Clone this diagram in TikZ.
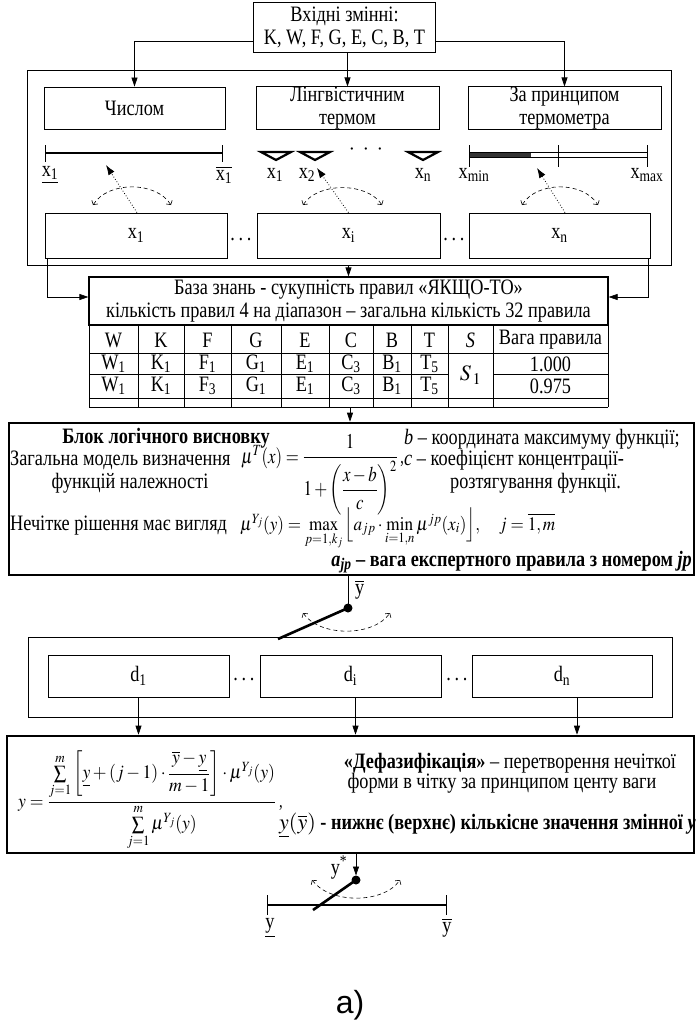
\documentclass[tikz,border=0pt]{standalone}
\usepackage{amsmath}
\usepackage{graphicx}
\usepackage{mathptmx}
\usepackage[no-math]{fontspec}
\setmainfont[FakeStretch=0.83]{Liberation Serif}
\newfontfamily\capsans{Liberation Sans}
\newcommand{\hsq}[2]{\scalebox{#1}[1]{#2}}
\usetikzlibrary{arrows.meta}
\begin{document}
\begin{tikzpicture}[x=1pt,y=-1pt,
 every node/.style={font=\fontsize{22}{23}\selectfont, inner sep=0pt},
 box/.style={draw, line width=0.8pt, align=center},
 heavy/.style={draw, line width=2.6pt},
 arr/.style={line width=0.7pt, -{Triangle[length=9pt,width=6pt]}},
 dotarr/.style={dotted, line width=0.8pt, -{Latex[length=10pt,width=7pt]}},
 swing/.style={dash pattern=on 4pt off 3pt, line width=0.6pt, {Straight Barb[length=3pt,width=7pt]}-{Straight Barb[length=3pt,width=7pt]}},
 lever/.style={line width=2.6pt},
 tick/.style={line width=0.7pt},
 scalebar/.style={line width=2.6pt},
 memb/.style={line width=2.2pt, line join=miter},
 thin/.style={line width=0.7pt},
 mathsz/.style={font=\fontsize{19}{23}\selectfont},
 mathbig/.style={font=\fontsize{21}{23}\selectfont},
]
\useasboundingbox (0,0) rectangle (696,1026);

% ---------- input block ----------
\node[box, minimum width=182pt, minimum height=50pt] (inp) at (344.5,27) {Вхідні змінні:\\K, W, F, G, E, C, B, T};
\node[box, minimum width=644pt, minimum height=195pt] (frA) at (349,167.5) {};
\node[box, minimum width=181pt, minimum height=42pt] (num) at (134.5,108) {Числом};
\node[box, minimum width=183pt, minimum height=42pt] (ling) at (347.5,108) {Лінгвістичним\\термом};
\node[box, minimum width=193pt, minimum height=42pt] (therm) at (564.5,108) {За принципом\\термометра};
\draw[arr] ([yshift=-14pt]inp.west) -| (num.north);
\draw[arr] ([yshift=-14pt]inp.east) -| (therm.north);
\draw[arr] (inp.south -| ling.north) -- (ling.north);

% scales
\draw[scalebar] (45,153) -- (222,153);
\draw[tick] (45,145) -- (45,162);
\draw[tick] (222,145) -- (222,162);
\node (lx1) at (50,175) {\underline{x\textsubscript{1}}};
\node (ux1) at (224,175) {$\overline{\mbox{x\textsubscript{1}}}$};

\foreach \c in {276,315,423}{
  \draw[memb] (\c-15,152) -- (\c+15,152) -- (\c,160) -- cycle;
}
\node (tdots) at (366,150) {$\cdot\;\cdot\;\cdot$};
\node (tx1) at (275,175) {x\textsubscript{1}};
\node (tx2) at (307,175) {x\textsubscript{2}};
\node (txn) at (423,175) {x\textsubscript{n}};

\fill[black!80] (469,152) rectangle (531,157);
\draw[thin] (469,152) -- (647,152);
\draw[thin] (469,157) -- (647,157);
\draw[tick] (469,145) -- (469,167);
\draw[tick] (558,145) -- (558,167);
\draw[tick] (647,145) -- (647,167);
\node (xmin) at (474,175) {x\textsubscript{min}};
\node (xmax) at (647,175) {x\textsubscript{max}};

% x boxes
\node[box, minimum width=182pt, minimum height=45pt] (x1) at (136,235.5) {x\textsubscript{1}};
\node[box, minimum width=183pt, minimum height=45pt] (xi) at (348.5,235.5) {x\textsubscript{i}};
\node[box, minimum width=181pt, minimum height=45pt] (xn) at (559.5,235.5) {x\textsubscript{n}};
\node (xd1) at (241,240) {.\,.\,.};
\node (xd2) at (454,240) {.\,.\,.};

\coordinate (da1) at (106,165);
\coordinate (da2) at (317,168);
\coordinate (da3) at (537,168);
\draw[dotarr] ([xshift=1pt]x1.north) -- (da1);
\draw[dotarr] (xi.north) -- (da2);
\draw[dotarr] ([xshift=5.5pt]xn.north) -- (da3);
\draw[swing] (93,205) .. controls (108,181) and (156,181) .. (171,205);
\draw[swing] (303,205) .. controls (318,182) and (367,182) .. (382,205);
\draw[swing] (522,205) .. controls (537,181) and (583,181) .. (598,205);

% ---------- knowledge base ----------
\node[draw, line width=1.2pt, minimum width=519pt, minimum height=48pt, align=center] (kb) at (348.5,301) {База знань - сукупність правил «ЯКЩО-ТО»\\кількість правил 4 на діапазон – загальна кількість 32 правила};
\draw[arr] (frA.south -| kb.north) -- (kb.north);
\draw[arr] ([xshift=3pt]x1.south west) |- ([yshift=4pt]kb.west);
\draw[arr] ([xshift=-2pt]xn.south east) |- ([yshift=4pt]kb.east);

% table
\foreach \xx in {89,138,184,231,281,329,373,411,448,493,608}{
  \draw[thin] (\xx,325) -- (\xx,407);
}
\draw[thin] (89,353) -- (608,353);
\draw[thin] (89,374) -- (448,374);
\draw[thin] (493,374) -- (608,374);
\draw[thin] (89,398) -- (608,398);
\draw[thin] (89,407) -- (608,407);
\foreach \cx/\t [count=\k] in {113.5/W,161/K,207.5/F,256/G,305/E,351/C,392/B,429.5/T,470.5/\textit{S},550.5/Вага правила}{
  \node (h\k) at (\cx,340) {\t};
}
\foreach \cx/\t [count=\k] in {113.5/{W\textsubscript{1}},161/{K\textsubscript{1}},207.5/{F\textsubscript{1}},256/{G\textsubscript{1}},305/{E\textsubscript{1}},351/{C\textsubscript{3}},392/{B\textsubscript{1}},429.5/{T\textsubscript{5}}}{
  \node (ra\k) at (\cx,364) {\t};
}
\foreach \cx/\t [count=\k] in {113.5/{W\textsubscript{1}},161/{K\textsubscript{1}},207.5/{F\textsubscript{3}},256/{G\textsubscript{1}},305/{E\textsubscript{1}},351/{C\textsubscript{3}},392/{B\textsubscript{1}},429.5/{T\textsubscript{5}}}{
  \node (rb\k) at (\cx,386) {\t};
}
\node (s1) at (470.5,375) {$S_{\,1}$};
\node (wa) at (550.5,364) {1.000};
\node (wb) at (550.5,386) {0.975};
\coordinate (tabbot) at (350,407);

% ---------- logic block ----------
\node[heavy, minimum width=685pt, minimum height=152pt] (lg) at (351.5,499) {};
\draw[arr] (tabbot) -- (tabbot |- lg.north);
\node (lgt) at (166,438) {\textbf{Блок логічного висновку}};
\node[anchor=base west] (lg1) at (10,465) {Загальна модель визначення};
\node[anchor=base] (lg2) at (130,488) {функцій належності};
\node[anchor=base west, mathbig] (f1) at (241,463) {\hsq{0.8}{$\mu^{T}(x)=\dfrac{1}{1+\left(\dfrac{x-b}{c}\right)^{2}}$\,,}};
\node[anchor=base west] (lb) at (404,444) {\textit{b} – координата максимуму функції;};
\node[anchor=base west] (lc) at (404,465) {\textit{c} – коефіцієнт концентрації-};
\node[anchor=base west] (lr) at (450,488) {розтягування функції.};
\node[anchor=base west] (lg3) at (10,530) {Нечітке рішення має вигляд};
\node[anchor=base west, mathsz] (f2) at (240,530) {\hsq{0.9}{$\mu^{Y_j}(y)=\max\limits_{p=1,k_j}\Big\lfloor a_{jp}\cdot\min\limits_{i=1,n}\mu^{jp}(x_i)\Big\rfloor,\quad j=\overline{1,m}$}};
\node[anchor=base east] (ajp) at (692,566) {\textbf{\textit{a}\textsubscript{\textit{jp}} – вага експертного правила з номером \textit{jp}}};

% switch 1
\coordinate (p1) at (348,608);
\coordinate (lev1) at (278,639);
\draw[thin] (lg.south -| p1) -- (p1);
\node[anchor=west] (yb1) at (355,590) {$\overline{\mbox{y}}$};

% ---------- d block ----------
\node[box, minimum width=644pt, minimum height=80pt] (frB) at (350,677) {};
\node[box, minimum width=181pt, minimum height=42pt] (d1) at (138.5,676) {d\textsubscript{1}};
\node[box, minimum width=181pt, minimum height=42pt] (di) at (350.5,676) {d\textsubscript{i}};
\node[box, minimum width=180pt, minimum height=42pt] (dn) at (562,676) {d\textsubscript{n}};
\node (dd1) at (244,680) {.\,.\,.};
\node (dd2) at (457,680) {.\,.\,.};
\draw[lever] (p1) -- (lev1);
\fill (p1) circle (4.5pt);
\draw[swing] (303,613) .. controls (320,637) and (373,637) .. (390,613);

% ---------- defuzzification ----------
\node[heavy, minimum width=687pt, minimum height=117pt] (df) at (350.5,794.5) {};
\draw[arr] (d1.south) -- (d1.south |- df.north);
\draw[arr] ([xshift=5pt]di.south) -- ([xshift=5pt]di.south |- df.north);
\draw[arr] ([xshift=15pt]dn.south) -- ([xshift=15pt]dn.south |- df.north);
\node[anchor=base west, mathsz] (f3) at (18,807) {\hsq{0.93}{$y=\dfrac{\sum\limits_{j=1}^{m}\left[\underline{y}+(j-1)\cdot\dfrac{\overline{y}-\underline{y}}{m-1}\right]\cdot\mu^{Y_j}(y)}{\sum\limits_{j=1}^{m}\mu^{Y_j}(y)}$\,,}};
\node (dz1) at (510,763) {\textbf{«Дефазифікація»} – перетворення нечіткої};
\node (dz2) at (502,783) {форми в чітку за принципом центу ваги};
\node[anchor=base west] (dz3) at (279,829) {$\underline{y}(\overline{y})$ \textbf{- нижнє (верхнє) кількісне значення змінної \textit{y}}};

% switch 2
\coordinate (p2) at (356,880);
\coordinate (lev2) at (313,910);
\draw[arr] (df.south -| p2) -- ([yshift=4.5pt]p2);
\draw[scalebar] (267,905) -- (446,905);
\draw[tick] (267,895) -- (267,915);
\draw[tick] (446,895) -- (446,915);
\draw[lever] (p2) -- (lev2);
\fill (p2) circle (4.5pt);
\draw[swing] (312,880) .. controls (330,904) and (383,904) .. (400,880);
\node (ystar) at (339,868) {y\textsuperscript{*}};
\node (ylo) at (270,928) {\underline{y}};
\node (yhi) at (447,928) {$\overline{\mbox{y}}$};

\node[font=\capsans\fontsize{32}{36}\selectfont] (cap) at (350,1005) {a)};
\end{tikzpicture}
\end{document}
